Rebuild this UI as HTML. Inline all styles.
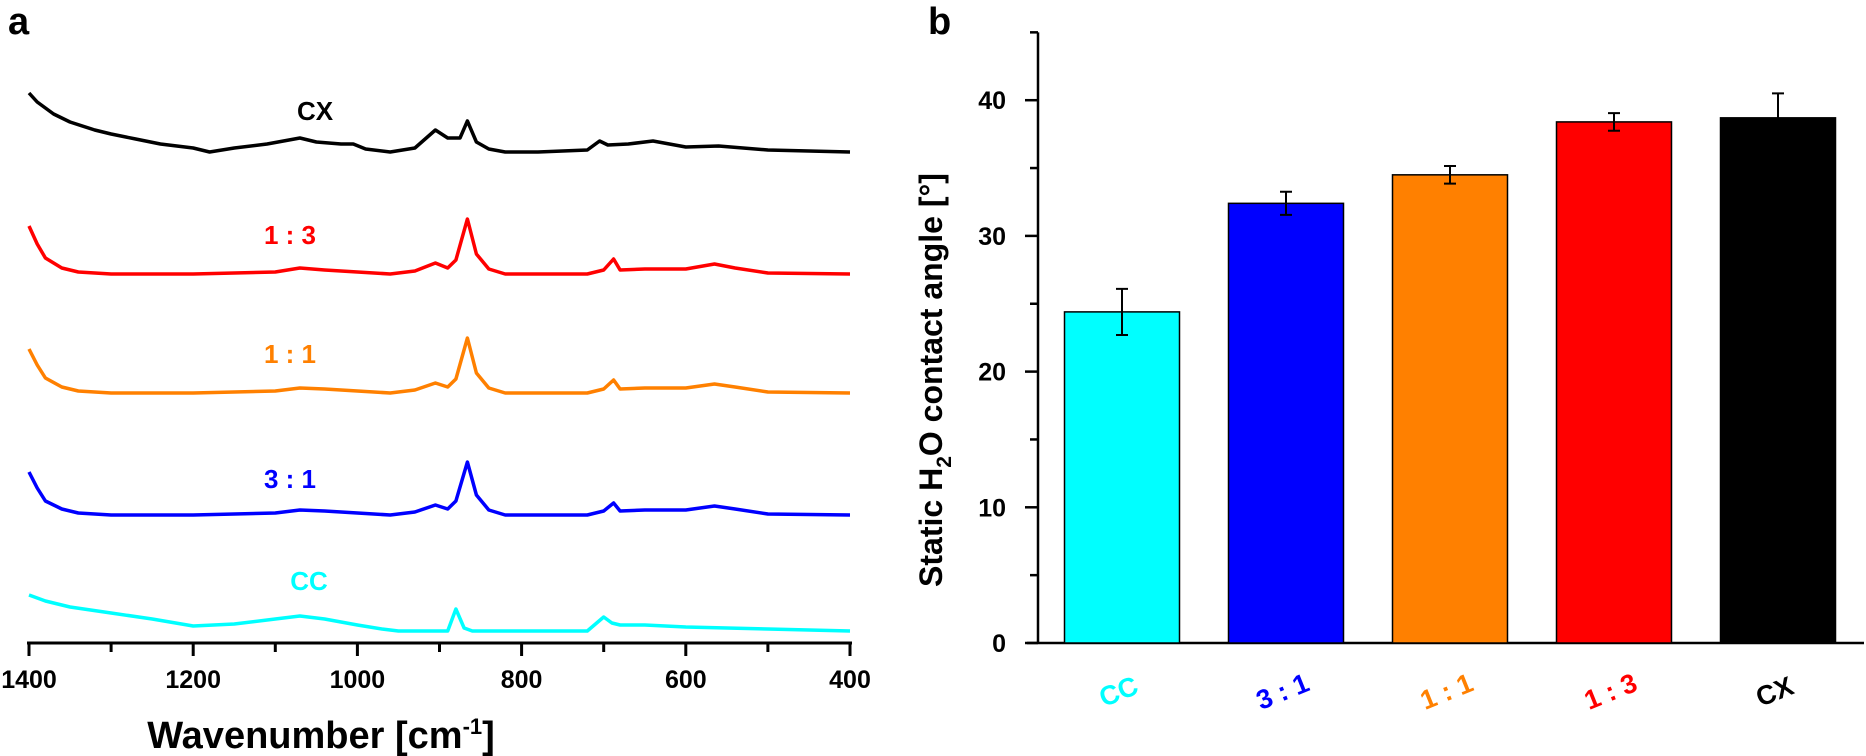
<!DOCTYPE html>
<html><head><meta charset="utf-8"><style>
html,body{margin:0;padding:0;background:#fff;}
svg{display:block;font-family:"Liberation Sans",Arial,sans-serif;font-weight:bold;}
</style></head><body>
<svg id="fig" width="1866" height="756" viewBox="0 0 1866 756" xmlns="http://www.w3.org/2000/svg">
<text x="8" y="34" font-size="38">a</text>
<text x="928" y="34" font-size="38">b</text>
<g id="pa"></g>
<g id="pb"></g>
</svg>
<script>
// ---------- Panel a data ----------
const wnTicks = [1400,1200,1000,800,600,400];
const cxWn  = [1400,1390,1370,1350,1320,1300,1270,1240,1200,1180,1150,1110,1070,1050,1020,1005,990,960,930,905,890,875,866,855,840,820,780,720,705,695,670,640,600,560,500,450,400];
const cxVal = [59,50,38,30,22,18,13,8,4,0,4,8,14,10,8,8,3,0,4,22,14,14,31,10,3,0,0,2,11,7,8,11,5,6,2,1,0];
const r13Wn  = [1400,1390,1380,1360,1340,1300,1200,1100,1070,1040,1000,960,930,905,890,880,866,855,840,820,720,700,688,680,650,600,565,540,500,400];
const r13Val = [48,30,16,6,2,0,0,2,6,4,2,0,3,11,6,14,55,20,5,0,0,4,15,4,5,5,10,6,1,0];
const r11Val = [44,28,15,6,2,0,0,2,5,4,2,0,3,10,6,14,55,20,5,0,0,4,13,4,5,5,9,6,1,0];
const r31Val = [43,27,14,6,2,0,0,2,5,4,2,0,3,10,6,14,53,20,5,0,0,4,12,4,5,5,9,6,1,0];
const ccWn  = [1400,1380,1350,1300,1250,1200,1150,1100,1070,1040,1000,970,950,890,880,870,860,720,700,690,680,650,600,500,400];
const ccVal = [36,30,24,18,12,5,7,12,15,12,6,2,0,0,22,3,0,0,14,8,6,6,4,2,0];
const seriesNames = ["CX","1 : 3","1 : 1","3 : 1","CC"];
const seriesBase  = [152,274,393,515,631];
const seriesColors = ["#000000","#ff0000","#ff8000","#0000ff","#00ffff"];

// ---------- Panel b data ----------
const cats = ["CC","3 : 1","1 : 1","1 : 3","CX"];
const angles = [24.4,32.4,34.5,38.4,38.7];
const errs = [1.7,0.85,0.65,0.65,1.8];
const yTicks = [0,10,20,30,40];
const barColors = ["#00ffff","#0000ff","#ff8000","#ff0000","#000000"];

const NS="http://www.w3.org/2000/svg";
function mk(tag, attrs, parent){const e=document.createElementNS(NS,tag);for(const k in attrs)e.setAttribute(k,attrs[k]);parent.appendChild(e);return e;}

// Panel a
const pa=document.getElementById('pa');
const xA = w => 29 + (1400-w)*(850-29)/1000;
const axisY=643;
const ax=mk('line',{x1:27,y1:axisY,x2:852,y2:axisY,stroke:'#000','stroke-width':3},pa);


for(let w=1400; w>=400; w-=100){
  const major = w%200===0;
  const t=mk('line',{x1:xA(w),y1:axisY,x2:xA(w),y2:axisY+(major?13:9),stroke:'#000','stroke-width':3},pa);
  
  
}
wnTicks.forEach(w=>{
  const t=mk('text',{x:xA(w),y:axisY+45,'font-size':25,'text-anchor':'middle'},pa);
  
  
  t.textContent=w;
});
const xt=mk('text',{x:321,y:748,'font-size':38,'text-anchor':'middle'},pa);


xt.innerHTML='Wavenumber [cm<tspan dy="-14" font-size="22">-1</tspan><tspan dy="14">]</tspan>';

const sWn=[cxWn,r13Wn,r13Wn,r13Wn,ccWn];
const sVal=[cxVal,r13Val,r11Val,r31Val,ccVal];
const labelPos=[[315,120],[290,244],[290,363],[290,488],[309,590]];
sVal.forEach((vals,i)=>{
  const pts=vals.map((v,j)=>xA(sWn[i][j]).toFixed(1)+','+(seriesBase[i]-v).toFixed(1)).join(' ');
  const p=mk('polyline',{points:pts,fill:'none',stroke:seriesColors[i],'stroke-width':3.5,'stroke-linejoin':'round'},pa);
  
  
  const l=mk('text',{x:labelPos[i][0],y:labelPos[i][1],'font-size':26,'text-anchor':'middle',fill:seriesColors[i]},pa);
  
  
  l.textContent=seriesNames[i];
});

// Panel b
const pb=document.getElementById('pb');
const axX=1038, y0=643, pxPer=13.57;
const yB = v => y0 - v*pxPer;
const ya=mk('line',{x1:axX,y1:yB(45),x2:axX,y2:y0,stroke:'#000','stroke-width':2.5},pb);


const xb=mk('line',{x1:1027,y1:y0,x2:1864,y2:y0,stroke:'#000','stroke-width':2.5},pb);


for(let v=0; v<=45; v+=5){
  const t=mk('line',{x1:axX-(v%10===0?13:8),y1:yB(v),x2:axX,y2:yB(v),stroke:'#000','stroke-width':2.5},pb);
  
  
}
yTicks.forEach(v=>{
  const t=mk('text',{x:1006,y:yB(v)+9,'font-size':25,'text-anchor':'end'},pb);
  
  
  t.textContent=v;
});
const yt=mk('text',{x:0,y:0,'font-size':32,'text-anchor':'middle',transform:'translate(942,380) rotate(-90)'},pb);


yt.innerHTML='Static H<tspan dy="9" font-size="21">2</tspan><tspan dy="-9">O contact angle [°]</tspan>';

const bw=115, step=164, firstC=1122;
angles.forEach((v,i)=>{
  const cx=firstC+i*step;
  const r=mk('rect',{x:cx-bw/2,y:yB(v),width:bw,height:y0-yB(v),fill:barColors[i],stroke:'#000','stroke-width':1.5},pb);
  
  
  const e=errs[i];
  const eb=mk('path',{d:`M${cx},${yB(v+e)}V${yB(v-e)}M${cx-6},${yB(v+e)}H${cx+6}M${cx-6},${yB(v-e)}H${cx+6}`,stroke:i===4?'#000':'#000','stroke-width':2,fill:'none'},pb);
  
  
  const l=mk('text',{x:0,y:0,'font-size':27,'text-anchor':'middle',fill:barColors[i],transform:`translate(${cx},${700}) rotate(-22)`},pb);
  
  
  l.textContent=cats[i];
});
</script>
</body></html>
